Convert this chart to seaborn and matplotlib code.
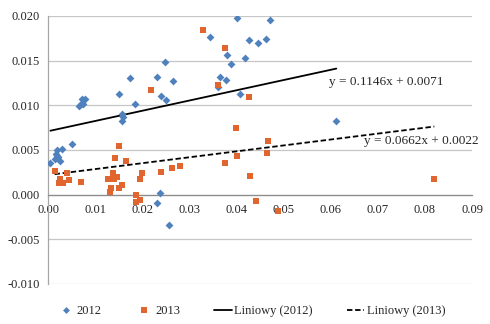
import numpy as np
import pandas as pd
import matplotlib
matplotlib.use("Agg")
import matplotlib.pyplot as plt
import seaborn as sns
from matplotlib.ticker import FormatStrFormatter, MultipleLocator
from matplotlib.lines import Line2D

# ---- data ----
x2012 = [0.0005, 0.0014, 0.0017, 0.0019, 0.0022, 0.0020, 0.0026, 0.0030, 0.0051,
         0.0065, 0.0070, 0.0074, 0.0072, 0.0079,
         0.0151, 0.0157, 0.0159, 0.0157, 0.0173, 0.0184,
         0.0232, 0.0240, 0.0249, 0.0251, 0.0266,
         0.0238, 0.0232, 0.0256,
         0.0343, 0.0360, 0.0365, 0.0378, 0.0381, 0.0389, 0.0401, 0.0407, 0.0418,
         0.0426, 0.0446, 0.0462, 0.0472,
         0.0612]
y2012 = [0.0036, 0.0040, 0.0045, 0.0043, 0.0042, 0.0050, 0.0038, 0.0051, 0.0057,
         0.0099, 0.0102, 0.0101, 0.0107, 0.0107,
         0.0113, 0.0090, 0.0087, 0.0082, 0.0131, 0.0101,
         0.0132, 0.0110, 0.0148, 0.0106, 0.0127,
         0.0002, -0.0009, -0.0034,
         0.0176, 0.0120, 0.0132, 0.0128, 0.0156, 0.0146, 0.0198, 0.0113, 0.0153,
         0.0173, 0.0170, 0.0174, 0.0196,
         0.0083]
x2013 = [0.0014, 0.0026, 0.0024, 0.0032, 0.0041, 0.0045, 0.0071,
         0.0128, 0.0131, 0.0134, 0.0137, 0.0140, 0.0143, 0.0146, 0.0150, 0.0150, 0.0157, 0.0165,
         0.0186, 0.0186, 0.0196, 0.0196, 0.0200, 0.0218, 0.0239, 0.0263, 0.0281,
         0.0330, 0.0360, 0.0375, 0.0376, 0.0398, 0.0402, 0.0427, 0.0429, 0.0441,
         0.0465, 0.0467, 0.0489, 0.0820]
y2013 = [0.0026, 0.0018, 0.0013, 0.0013, 0.0024, 0.0016, 0.0014,
         0.0018, 0.0003, 0.0007, 0.0024, 0.0018, 0.0041, 0.0020, 0.0055, 0.0008, 0.0011, 0.0038,
         0.0000, -0.0008, 0.0017, -0.0006, 0.0024, 0.0117, 0.0025, 0.0030, 0.0032,
         0.0184, 0.0123, 0.0035, 0.0164, 0.0075, 0.0043, 0.0109, 0.0021, -0.0007,
         0.0047, 0.0060, -0.0018, 0.0018]

years = ["2012", "2013"]
trend_slope = [0.1146, 0.0662]
trend_intercept = [0.0071, 0.0022]
trend_labels = ["Liniowy (2012)", "Liniowy (2013)"]
eq_labels = ["y = 0.1146x + 0.0071", "y = 0.0662x + 0.0022"]

# ---- style ----
sns.set_style("white")
plt.rcParams["font.family"] = ["Liberation Serif", "DejaVu Serif"]
plt.rcParams["axes.unicode_minus"] = False

c_blue = "#4F81BD"
c_orange = "#E0652E"

df = pd.DataFrame({
    "x": x2012 + x2013,
    "y": y2012 + y2013,
    "year": [years[0]] * len(x2012) + [years[1]] * len(x2013),
})

fig = plt.figure(figsize=(4.9, 3.24), dpi=100)
ax = fig.add_axes([48 / 490, 1 - 284 / 324, (472 - 48) / 490, (284 - 16) / 324])

sns.scatterplot(data=df[df.year == "2012"], x="x", y="y", marker="D", color=c_blue,
                s=16, linewidth=0, ax=ax, legend=False, zorder=3)
sns.scatterplot(data=df[df.year == "2013"], x="x", y="y", marker="s", color=c_orange,
                s=24, linewidth=0, ax=ax, legend=False, zorder=3)

# trend lines over each series' x range
for xs, m, b, ls in [(x2012, trend_slope[0], trend_intercept[0], "-"),
                     (x2013, trend_slope[1], trend_intercept[1], "--")]:
    xx = np.array([min(xs), max(xs)])
    if ls == "--":
        ax.plot(xx, m * xx + b, color="black", lw=1.3, ls="--", dashes=(3, 1.5), zorder=2)
    else:
        ax.plot(xx, m * xx + b, color="black", lw=1.3, zorder=2)

ax.text(0.0596, 0.01256, eq_labels[0], fontsize=9.5, va="center", ha="left")
ax.text(0.0670, 0.00604, eq_labels[1], fontsize=9.5, va="center", ha="left")

ax.set_xlim(0, 0.09)
ax.set_ylim(-0.010, 0.020)
ax.xaxis.set_major_locator(MultipleLocator(0.01))
ax.yaxis.set_major_locator(MultipleLocator(0.005))
ax.xaxis.set_major_formatter(FormatStrFormatter("%.2f"))
ax.yaxis.set_major_formatter(FormatStrFormatter("%.3f"))
ax.set_xlabel("")
ax.set_ylabel("")

ax.grid(axis="y", color="#c6c6c6", lw=0.9)
ax.grid(axis="x", visible=False)
ax.set_axisbelow(True)

for s in ["top", "right"]:
    ax.spines[s].set_visible(False)
ax.spines["left"].set_color("#a6a6a6")
ax.spines["left"].set_linewidth(0.9)
ax.spines["bottom"].set_position(("data", 0))
ax.spines["bottom"].set_color("#8c8c8c")
ax.spines["bottom"].set_linewidth(0.9)

ax.tick_params(axis="x", direction="out", length=4, width=0.9, color="#8c8c8c",
               labelsize=9, pad=3)
ax.tick_params(axis="y", direction="out", length=3, width=0.9, color="#a6a6a6",
               labelsize=9, pad=3)

handles = [
    Line2D([], [], marker="D", color=c_blue, ls="none", markersize=3.5, markeredgewidth=0),
    Line2D([], [], marker="s", color=c_orange, ls="none", markersize=4.5, markeredgewidth=0),
    Line2D([], [], color="black", lw=1.3),
    Line2D([], [], color="black", lw=1.3, ls="--", dashes=(3, 1.5)),
]
fig.legend(handles, years + trend_labels, loc="center", bbox_to_anchor=(0.512, 0.04),
           ncol=4, frameon=False, fontsize=9, handlelength=1.4, columnspacing=2.7,
           handletextpad=0.2)

fig.savefig("out.png", dpi=100)
